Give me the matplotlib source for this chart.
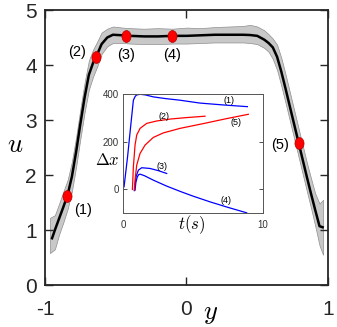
import matplotlib
matplotlib.use("Agg")
import matplotlib.pyplot as plt
from matplotlib.path import Path
import numpy as np

# ── DATA ────────────────────────────────────────────────────
# main profile u(y), with spread band
y_prof = [-0.95, -0.93, -0.90, -0.87, -0.84, -0.81, -0.78, -0.75, -0.72, -0.69,
          -0.66, -0.63, -0.60, -0.56, -0.52, -0.45, -0.40, -0.30, -0.20, -0.10,
          0.0, 0.10, 0.20, 0.30, 0.40, 0.45, 0.50, 0.55, 0.58, 0.61,
          0.64, 0.67, 0.70, 0.73, 0.76, 0.79, 0.82, 0.85, 0.88, 0.91,
          0.94, 0.962]
u_prof = [0.85, 1.00, 1.21, 1.42, 1.64, 1.97, 2.42, 2.93, 3.41, 3.82,
          4.04, 4.20, 4.38, 4.50, 4.55, 4.54, 4.53, 4.52, 4.52, 4.53,
          4.53, 4.54, 4.55, 4.55, 4.55, 4.545, 4.53, 4.46, 4.40, 4.32,
          4.15, 3.88, 3.57, 3.25, 2.93, 2.61, 2.29, 1.97, 1.66, 1.36,
          1.07, 1.05]

y_band = [-0.965, -0.93, -0.90, -0.87, -0.84, -0.81, -0.78, -0.75, -0.72, -0.69,
          -0.66, -0.63, -0.60, -0.56, -0.52, -0.45, -0.40, -0.30, -0.20, -0.10,
          0.0, 0.10, 0.20, 0.30, 0.40, 0.45, 0.50, 0.55, 0.58, 0.61,
          0.64, 0.67, 0.70, 0.73, 0.76, 0.79, 0.82, 0.85, 0.88, 0.91,
          0.94, 0.965]
u_lo = [0.58, 0.65, 0.92, 1.14, 1.38, 1.70, 2.15, 2.66, 3.14, 3.55,
        3.79, 3.98, 4.20, 4.34, 4.40, 4.40, 4.39, 4.38, 4.38, 4.39,
        4.39, 4.40, 4.41, 4.41, 4.41, 4.40, 4.38, 4.31, 4.24, 4.11,
        3.91, 3.62, 3.31, 2.99, 2.67, 2.35, 2.03, 1.71, 1.40, 1.07,
        0.72, 0.55]
u_hi = [1.22, 1.27, 1.48, 1.70, 1.91, 2.24, 2.69, 3.20, 3.68, 4.08,
        4.28, 4.43, 4.59, 4.66, 4.70, 4.68, 4.67, 4.66, 4.67, 4.66,
        4.68, 4.67, 4.69, 4.70, 4.71, 4.73, 4.70, 4.63, 4.56, 4.48,
        4.37, 4.13, 3.83, 3.51, 3.19, 2.87, 2.55, 2.23, 1.94, 1.66,
        1.48, 1.55]

# marked points (1)..(5)
pt_names = ["(1)", "(2)", "(3)", "(4)", "(5)"]
pt_y = [-0.842, -0.638, -0.428, -0.10, 0.792]
pt_u = [1.62, 4.14, 4.53, 4.53, 2.59]

# inset: displacement vs time
t1 = [0.05, 0.3, 0.5, 0.72, 0.85, 0.95, 1.2, 1.6, 2.15, 3.0, 4.07, 5.5, 7.2, 8.9]
dx1 = [11, 135, 250, 374, 390, 396, 399, 396, 388, 381, 374, 362, 354, 347]
t2 = [0.65, 0.72, 0.84, 0.96, 1.2, 1.68, 2.4, 3.35, 4.5, 5.86]
dx2 = [0, 95, 186, 228, 256, 277, 287, 295, 301, 307]
t3 = [0.79, 0.91, 1.08, 1.32, 1.91, 2.5, 3.11]
dx3 = [-5, 53, 81, 91, 88, 79, 67]
t4 = [0.84, 0.9, 1.0, 1.1, 1.2, 1.5, 2.15, 3.11, 4.07, 5.0, 6.22, 7.5, 8.85]
dx4 = [-3, 30, 52, 62, 64, 58, 39, 14, -8, -28, -52, -75, -98]
t5 = [0.79, 0.84, 0.96, 1.2, 1.56, 2.15, 2.87, 4.07, 5.74, 7.42, 8.97]
dx5 = [-3, 40, 102, 151, 186, 218, 237, 256, 276, 297, 315]
# ────────────────────────────────────────────────────────────

plt.rcParams["font.family"] = ["Liberation Sans", "DejaVu Sans"]
plt.rcParams["mathtext.fontset"] = "cm"
plt.rcParams["axes.unicode_minus"] = False

INK = "#262626"

fig = plt.figure(figsize=(3.37, 3.27), dpi=100)
ax = fig.add_axes([0.1335, 0.1284, 0.8398, 0.841])

ax.fill_between(y_band, u_lo, u_hi, color="#c8c8c8", edgecolor="#8f8f8f", linewidth=0.5, zorder=1)
ax.plot(y_prof, u_prof, color="black", linewidth=1.8, zorder=2)

# slightly tall markers like the original
circ = Path.unit_circle()
ell = Path(circ.vertices * np.array([1.0, 1.3]), circ.codes)
ax.plot(pt_y, pt_u, linestyle="none", marker=ell, markersize=8.5,
        markerfacecolor="red", markeredgecolor="#b00000", markeredgewidth=0.5, zorder=3)

offsets = [(11, -10), (-14, 4), (0, -14), (0, -14), (-13, -2)]
for name, xx, uu, off in zip(pt_names, pt_y, pt_u, offsets):
    ax.annotate(name, (xx, uu), xytext=off, textcoords="offset points",
                ha="center", va="center", fontsize=10.5, color="black")

ax.set_xlim(-1, 1)
ax.set_ylim(0, 5)
ax.set_xticks([-1, 0, 1])
ax.set_yticks([0, 1, 2, 3, 4, 5])
ax.tick_params(direction="in", length=6, width=1, top=True, right=True,
               labelsize=15, colors=INK, pad=6)
ax.tick_params(axis="x", pad=11)
for s in ax.spines.values():
    s.set_linewidth(1.3)
    s.set_color(INK)

ax.set_ylabel("$u$", fontsize=19, rotation=0, va="center", ha="center")
ax.yaxis.set_label_coords(-0.106, 0.509)
ax.set_xlabel("$y$", fontsize=19, va="center", ha="center")
ax.xaxis.set_label_coords(0.585, -0.105)

# ── inset ──
axi = fig.add_axes([0.366, 0.3477, 0.4135, 0.3648])
axi.plot(t1, dx1, color="blue", linewidth=0.9)
axi.plot(t2, dx2, color="red", linewidth=0.9)
axi.plot(t3, dx3, color="blue", linewidth=0.9)
axi.plot(t4, dx4, color="blue", linewidth=0.9)
axi.plot(t5, dx5, color="red", linewidth=0.9)

axi.text(7.6, 371, "(1)", fontsize=6.5, ha="center", va="center")
axi.text(2.94, 307, "(2)", fontsize=6.5, ha="center", va="center")
axi.text(2.75, 98, "(3)", fontsize=6.5, ha="center", va="center")
axi.text(7.35, -45, "(4)", fontsize=6.5, ha="center", va="center")
axi.text(8.08, 281, "(5)", fontsize=6.5, ha="center", va="center")

axi.set_xlim(0, 10)
axi.set_ylim(-100, 400)
axi.set_xticks([0, 10])
axi.set_yticks([0, 200, 400])
axi.tick_params(direction="in", length=3, width=0.6, right=True,
                labelsize=7, colors="#333333", pad=3)
axi.tick_params(axis="x", pad=5)
for s in axi.spines.values():
    s.set_linewidth(0.7)
    s.set_color("#555555")

axi.set_xlabel("$t(s)$", fontsize=12, va="center", ha="center")
axi.xaxis.set_label_coords(0.49, -0.098)
axi.set_ylabel(r"$\Delta x$", fontsize=12, rotation=0, va="center", ha="center")
axi.yaxis.set_label_coords(-0.117, 0.447)

fig.savefig("out.png", dpi=100)
